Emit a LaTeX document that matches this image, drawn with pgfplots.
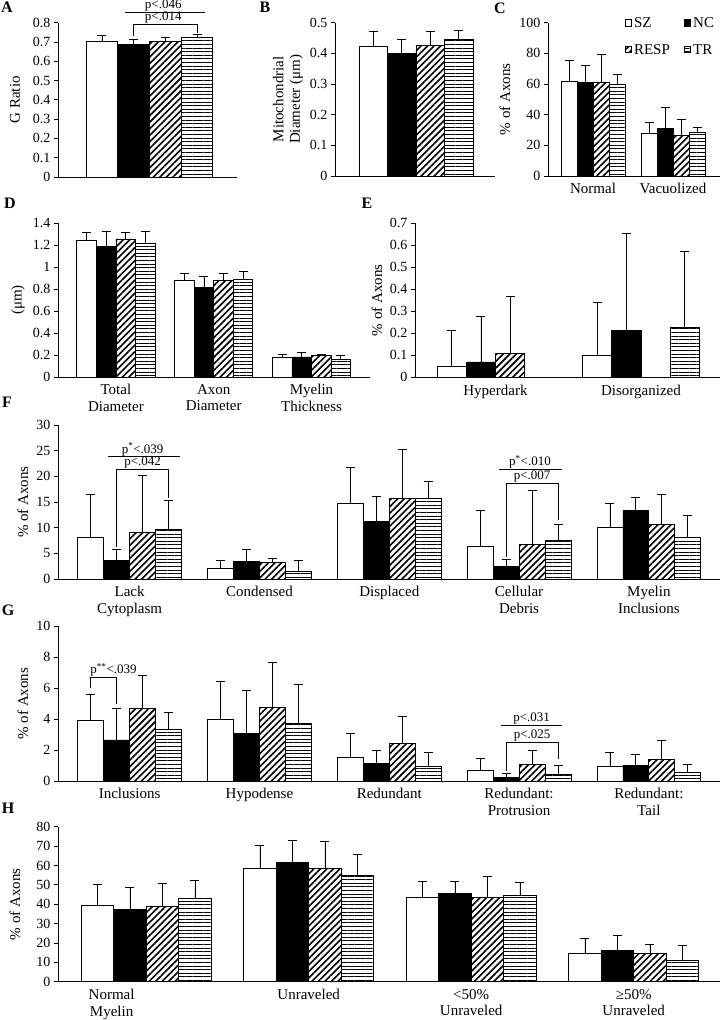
\documentclass[border=0pt]{standalone}
\usepackage{fontspec}
\setmainfont{Liberation Serif}
\usepackage{pgfplots}
\pgfplotsset{compat=1.18}
\usetikzlibrary{patterns.meta}

\newcommand{\tk}{\fontsize{14}{15}\selectfont}
\newcommand{\lb}{\fontsize{15}{16.5}\selectfont}
\newcommand{\pv}{\fontsize{13}{14}\selectfont}
\newcommand{\pl}{\fontsize{16}{17}\selectfont\bfseries}

\tikzset{
  ann/.style={line width=0.8pt},
  pval/.style={font=\pv, anchor=south, inner sep=0.8pt},
}
\pgfplotsset{
  panel/.style={
    scale only axis, anchor=south west,
    ybar=0pt, bar width=0.2,
    axis lines=left, axis line style={-, line width=0.8pt},
    ymin=0, tick align=outside, major tick length=4pt,
    ytick style={black, line width=0.8pt},
    xtick style={draw=none},
    clip=false,
    /pgf/number format/assume math mode=true,
    yticklabel style={font=\tk},
    xticklabel style={align=center, font=\lb},
    ylabel style={font=\lb, align=center, anchor=center},
  },
  bars/.style={draw=black, line width=0.8pt,
    legend image code/.code={\draw[##1,/tikz/.cd,yshift=-0.25em] (0pt,0pt) rectangle (6.5pt,6.5pt);},
    error bars/y dir=plus, error bars/y explicit,
    error bars/error bar style={black, line width=0.8pt, solid},
    error bars/error mark options={black, line width=0.8pt, mark size=4.5pt, solid, rotate=90}},
  sz/.style={bars, fill=white},
  nc/.style={bars, fill=black},
  resp/.style={bars, pattern={Lines[angle=45,distance=4.6pt,line width=1.6pt]}},
  trs/.style={bars, pattern={Lines[angle=0,distance=3.6pt,line width=0.7pt]}},
}

\begin{document}
\begin{tikzpicture}
\useasboundingbox (0pt,0pt) rectangle (725pt,-1020pt);

% ---------------- A ----------------
\node[font=\pl] at (7pt,-7pt) {A};
\begin{axis}[panel, at={(58pt,-177pt)}, width=179pt, height=154.3pt,
  xmin=-0.577, xmax=0.552, ymax=0.8, xtick=\empty,
  ytick={0,0.1,0.2,0.3,0.4,0.5,0.6,0.7,0.8},
  ylabel={G Ratio}, ylabel style={at={(axis description cs:-0.24,0.5)}}]
\addplot[sz] coordinates {(0,0.701) +- (0,0.031)};
\addplot[nc] coordinates {(0,0.686) +- (0,0.027)};
\addplot[resp] coordinates {(0,0.701) +- (0,0.021)};
\addplot[trs] coordinates {(0,0.724) +- (0,0.014)};
\draw[ann] (axis cs:-0.155,0.854) -- (axis cs:0.35,0.854);
\node[pval] at (axis cs:0.087,0.854) {p<.046};
\draw[ann] (axis cs:-0.1,0.732) -- (axis cs:-0.1,0.793) -- (axis cs:0.3,0.793) -- (axis cs:0.3,0.745);
\node[pval] at (axis cs:0.087,0.793) {p<.014};
\end{axis}

% ---------------- B ----------------
\node[font=\pl] at (265pt,-7pt) {B};
\begin{axis}[panel, at={(335pt,-176pt)}, width=160pt, height=153.3pt,
  xmin=-0.568, xmax=0.555, ymax=0.5, xtick=\empty,
  ytick={0,0.1,0.2,0.3,0.4,0.5},
  ylabel={Mitochondrial\\Diameter (μm)}, ylabel style={at={(axis description cs:-0.294,0.5)}}]
\addplot[sz] coordinates {(0,0.422) +- (0,0.051)};
\addplot[nc] coordinates {(0,0.400) +- (0,0.046)};
\addplot[resp] coordinates {(0,0.425) +- (0,0.048)};
\addplot[trs] coordinates {(0,0.446) +- (0,0.028)};
\end{axis}

% ---------------- C ----------------
\node[font=\pl] at (500pt,-8pt) {C};
\begin{axis}[panel, at={(548pt,-176pt)}, width=172pt, height=153.3pt,
  xmin=-0.5625, xmax=1.5875, ymax=100,
  xtick={0,1}, xticklabels={Normal,Vacuolized},
  ytick={0,20,40,60,80,100},
  ylabel={\% of Axons}, ylabel style={at={(axis description cs:-0.25,0.5)}},
  legend columns=2, legend cell align=left,
  legend style={at={(axis description cs:0.445,1.045)}, anchor=north west, draw=none, fill=none,
    font=\lb, inner sep=0pt, row sep=11pt,
    /tikz/every even column/.append style={column sep=12pt}}]
\addplot[sz] coordinates {(0,61.5) +- (0,13.9) (1,27.8) +- (0,7.0)};
\addplot[nc] coordinates {(0,60.8) +- (0,11.6) (1,31.3) +- (0,13.3)};
\addplot[resp] coordinates {(0,61.0) +- (0,18.3) (1,26.7) +- (0,10.3)};
\addplot[trs] coordinates {(0,59.8) +- (0,6.7) (1,28.7) +- (0,3.3)};
\legend{SZ,NC,RESP,TR}
\end{axis}

% ---------------- D ----------------
\node[font=\pl] at (10pt,-203pt) {D};
\begin{axis}[panel, at={(58pt,-377pt)}, width=312pt, height=154pt,
  xmin=-0.592, xmax=2.598, ymax=1.4,
  xtick={0,1,2}, xticklabels={{Total\\Diameter},{Axon\\Diameter},{Myelin\\Thickness}},
  ytick={0,0.2,0.4,0.6,0.8,1,1.2,1.4},
  ylabel={(μm)}, ylabel style={at={(axis description cs:-0.128,0.5)}}]
\addplot[sz] coordinates {(0,1.242) +- (0,0.070) (1,0.876) +- (0,0.069) (2,0.182) +- (0,0.024)};
\addplot[nc] coordinates {(0,1.188) +- (0,0.136) (1,0.815) +- (0,0.097) (2,0.182) +- (0,0.039)};
\addplot[resp] coordinates {(0,1.255) +- (0,0.057) (1,0.876) +- (0,0.069) (2,0.194) +- (0,0.012)};
\addplot[trs] coordinates {(0,1.218) +- (0,0.106) (1,0.885) +- (0,0.079) (2,0.161) +- (0,0.033)};
\end{axis}

% ---------------- E ----------------
\node[font=\pl] at (367pt,-203pt) {E};
\begin{axis}[panel, at={(415pt,-377.3pt)}, width=305pt, height=154pt,
  xmin=-0.553, xmax=1.543, ymax=0.7,
  xtick={0,1}, xticklabels={Hyperdark,Disorganized},
  ytick={0,0.1,0.2,0.3,0.4,0.5,0.6,0.7},
  ylabel={\% of Axons}, ylabel style={at={(axis description cs:-0.125,0.5)}}]
\addplot[sz] coordinates {(0,0.048) +- (0,0.167) (1,0.100) +- (0,0.239)};
\addplot[nc] coordinates {(0,0.070) +- (0,0.209) (1,0.211) +- (0,0.442)};
\addplot[resp] coordinates {(0,0.109) +- (0,0.258)};
\addplot[trs] coordinates {(1,0.226) +- (0,0.348)};
\end{axis}

% ---------------- F ----------------
\node[font=\pl] at (7pt,-402pt) {F};
\begin{axis}[panel, at={(58pt,-579pt)}, width=662pt, height=154pt,
  xmin=-0.552, xmax=4.548, ymax=30,
  xtick={0,1,2,3,4}, xticklabels={{Lack\\Cytoplasm},Condensed,Displaced,{Cellular\\Debris},{Myelin\\Inclusions}},
  ytick={0,5,10,15,20,25,30},
  ylabel={\% of Axons}, ylabel style={at={(axis description cs:-0.053,0.5)}}]
\addplot[sz] coordinates {(0,8.1) +- (0,8.4) (1,2.1) +- (0,1.6) (2,14.7) +- (0,7.0) (3,6.3) +- (0,7.1) (4,10.1) +- (0,4.6)};
\addplot[nc] coordinates {(0,3.6) +- (0,2.2) (1,3.4) +- (0,2.4) (2,11.3) +- (0,4.7) (3,2.5) +- (0,1.3) (4,13.4) +- (0,2.5)};
\addplot[resp] coordinates {(0,9.0) +- (0,11.1) (1,3.2) +- (0,0.8) (2,15.7) +- (0,9.6) (3,6.75) +- (0,10.55) (4,10.6) +- (0,5.9)};
\addplot[trs] coordinates {(0,9.7) +- (0,5.6) (1,1.4) +- (0,2.2) (2,15.7) +- (0,3.4) (3,7.5) +- (0,3.1) (4,8.2) +- (0,4.1)};
\draw[ann] (axis cs:-0.167,23.8) -- (axis cs:0.387,23.8);
\node[pval] at (axis cs:0.1,23.8) {p\textsuperscript{*}<.039};
\draw[ann] (axis cs:-0.1,6.3) -- (axis cs:-0.1,21.4) -- (axis cs:0.3,21.4) -- (axis cs:0.3,15.8);
\node[pval] at (axis cs:0.1,21.4) {p<.042};
\draw[ann] (axis cs:2.847,21.4) -- (axis cs:3.333,21.4);
\node[pval] at (axis cs:3.084,21.4) {p\textsuperscript{*}<.010};
\draw[ann] (axis cs:2.9,4.35) -- (axis cs:2.9,18.6) -- (axis cs:3.3,18.6) -- (axis cs:3.3,11.5);
\node[pval] at (axis cs:3.1,18.6) {p<.007};
\end{axis}

% ---------------- G ----------------
\node[font=\pl] at (8pt,-610pt) {G};
\begin{axis}[panel, at={(58pt,-781pt)}, width=662pt, height=155pt,
  xmin=-0.552, xmax=4.548, ymax=10,
  xtick={0,1,2,3,4}, xticklabels={Inclusions,Hypodense,Redundant,{Redundant:\\Protrusion},{Redundant:\\Tail}},
  ytick={0,2,4,6,8,10},
  ylabel={\% of Axons}, ylabel style={at={(axis description cs:-0.053,0.5)}}]
\addplot[sz] coordinates {(0,3.89) +- (0,1.70) (1,3.98) +- (0,2.47) (2,1.53) +- (0,1.52) (3,0.71) +- (0,0.73) (4,0.92) +- (0,0.95)};
\addplot[nc] coordinates {(0,2.65) +- (0,2.02) (1,3.05) +- (0,2.80) (2,1.12) +- (0,0.84) (3,0.22) +- (0,0.25) (4,1.01) +- (0,0.71)};
\addplot[resp] coordinates {(0,4.69) +- (0,2.15) (1,4.73) +- (0,2.93) (2,2.43) +- (0,1.72) (3,1.05) +- (0,0.95) (4,1.40) +- (0,1.22)};
\addplot[trs] coordinates {(0,3.35) +- (0,1.08) (1,3.72) +- (0,2.52) (2,0.97) +- (0,0.90) (3,0.43) +- (0,0.58) (4,0.54) +- (0,0.51)};
\draw[ann] (axis cs:-0.3,5.98) -- (axis cs:-0.3,6.67) -- (axis cs:-0.1,6.67) -- (axis cs:-0.1,5.0);
\node[pval, anchor=south west] at (axis cs:-0.31,6.67) {p\textsuperscript{**}<.039};
\draw[ann] (axis cs:2.858,3.59) -- (axis cs:3.333,3.59);
\node[pval] at (axis cs:3.097,3.59) {p<.031};
\draw[ann] (axis cs:2.9,0.65) -- (axis cs:2.9,2.47) -- (axis cs:3.3,2.47) -- (axis cs:3.3,1.4);
\node[pval] at (axis cs:3.1,2.47) {p<.025};
\end{axis}

% ---------------- H ----------------
\node[font=\pl] at (8pt,-808pt) {H};
\begin{axis}[panel, at={(58pt,-981.7pt)}, width=662pt, height=155pt,
  xmin=-0.543, xmax=3.531, ymax=80,
  xtick={-0.213,1,2,3}, xticklabels={{Normal\\Myelin},Unraveled,{<50\%\\Unraveled},{≥50\%\\Unraveled}},
  ytick={0,10,20,30,40,50,60,70,80},
  ylabel={\% of Axons}, ylabel style={at={(axis description cs:-0.065,0.5)}}]
\addplot[sz] coordinates {(0,39.4) +- (0,11.0) (1,58.3) +- (0,12.1) (2,43.7) +- (0,8.1) (3,14.5) +- (0,7.9)};
\addplot[nc] coordinates {(0,37.3) +- (0,11.4) (1,61.6) +- (0,11.5) (2,45.4) +- (0,6.4) (3,16.0) +- (0,7.7)};
\addplot[resp] coordinates {(0,38.7) +- (0,12.2) (1,58.3) +- (0,14.3) (2,43.7) +- (0,10.7) (3,14.5) +- (0,4.9)};
\addplot[trs] coordinates {(0,42.8) +- (0,9.3) (1,54.7) +- (0,11.0) (2,44.4) +- (0,6.7) (3,11.0) +- (0,7.8)};
\end{axis}
\end{tikzpicture}
\end{document}
